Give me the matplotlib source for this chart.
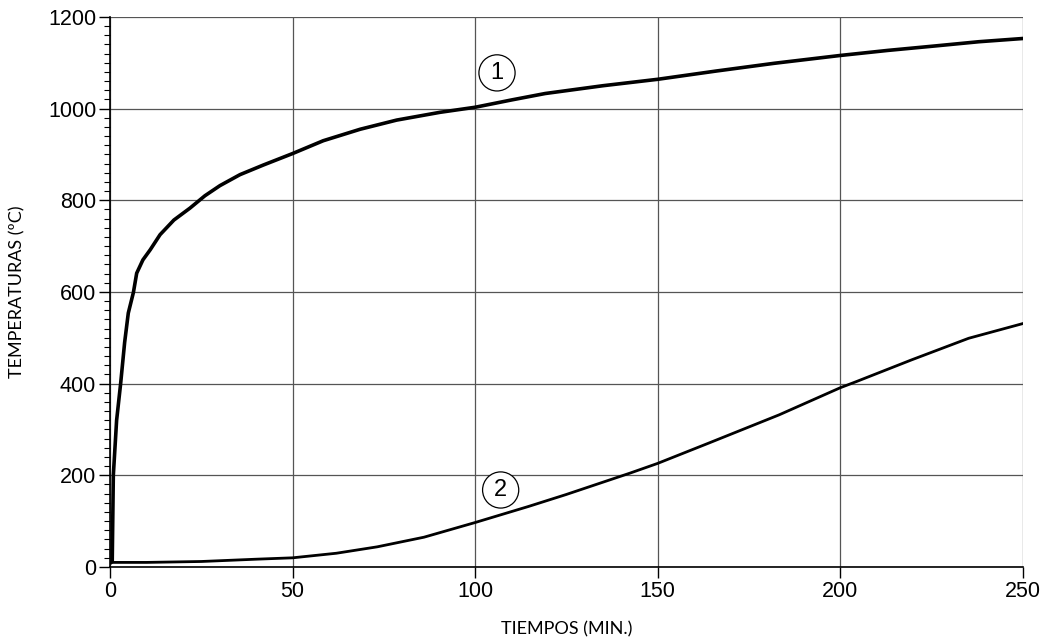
import matplotlib.pyplot as plt
import numpy as np
from matplotlib.ticker import MultipleLocator

# curve 1: furnace / fire curve
t1 = [0.3, 0.6, 0.9, 1.8, 2.9, 4.0, 5.0, 6.4, 7.3, 9.0, 11.0, 13.7, 17.5, 21.9, 26, 30.1, 35.6, 42, 50, 58.4, 68.5, 78.5, 90.4, 100, 110, 119.2, 135, 150, 166, 182, 200, 213, 226.3, 238, 250]
temp1 = [10, 12, 200, 320, 400, 490, 554, 599, 641, 670, 692, 725, 757, 783, 810, 832, 856, 877, 902, 930, 955, 975, 992, 1003, 1019, 1033, 1050, 1064, 1082, 1099, 1116, 1127, 1137, 1146, 1153]

# curve 2: element temperature
t2 = [0.3, 10, 25, 40, 50, 62, 73.2, 86, 100, 114.6, 124.9, 142.5, 150, 163.9, 183.3, 200, 204.6, 219.6, 235.2, 250]
temp2 = [10, 10, 12, 17, 20, 30, 44, 65, 97, 132, 158, 205, 226, 270, 332, 391, 405, 452, 499, 531]

x_ticks = [0, 50, 100, 150, 200, 250]
y_ticks = [0, 200, 400, 600, 800, 1000, 1200]

fig = plt.figure(figsize=(10.5, 6.38), dpi=100)
ax = fig.add_axes([0.1048, 0.1113, 0.8692, 0.8621])

ax.plot(t1, temp1, color='black', lw=2.6, solid_joinstyle='round')
ax.plot(t2, temp2, color='black', lw=2.0, solid_joinstyle='round')

ax.set_xlim(0, 250)
ax.set_ylim(0, 1200)
ax.set_xticks(x_ticks)
ax.set_yticks(y_ticks)
ax.yaxis.set_minor_locator(MultipleLocator(20))
ax.grid(True, which='major', color='#555555', lw=0.9)
ax.tick_params(which='major', length=8, width=1, labelsize=15.5, pad=2)
ax.tick_params(which='minor', length=4, width=0.8)
for lab in ax.get_xticklabels() + ax.get_yticklabels():
    lab.set_fontfamily('Liberation Sans')

for s in ['top', 'right']:
    ax.spines[s].set_visible(False)
for s in ['left', 'bottom']:
    ax.spines[s].set_linewidth(1.2)

ax.set_ylabel('TEMPERATURAS (ºC)', fontsize=13, family='Lato', labelpad=16)
ax.set_xlabel('TIEMPOS (MIN.)', fontsize=13, family='Lato', labelpad=14)

circ = dict(boxstyle='circle,pad=0.3', fc='white', ec='black', lw=0.9)
ax.text(106, 1078, '1', fontsize=17, family='Liberation Sans', ha='center', va='center', bbox=circ)
ax.text(107, 168, '2', fontsize=17, family='Liberation Sans', ha='center', va='center', bbox=circ)

fig.savefig('out.png', dpi=100)
